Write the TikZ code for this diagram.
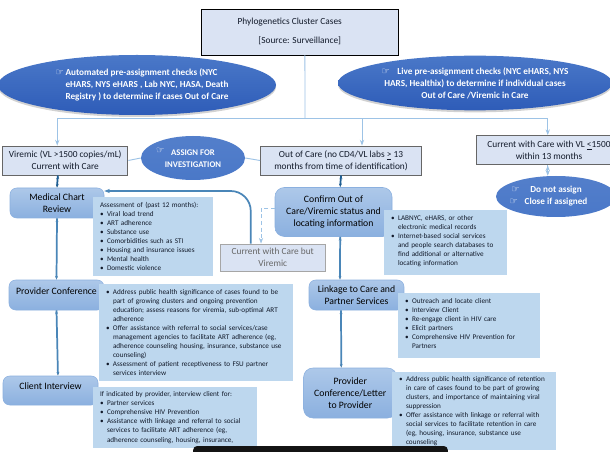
\documentclass[tikz,border=0pt]{standalone}
\usepackage{fontspec}
\setmainfont{Carlito}
\newfontfamily\symfont{DejaVu Sans}
\usetikzlibrary{arrows.meta, shapes, shadows}
\definecolor{boxfill}{HTML}{DAE3F3}
\definecolor{notefill}{HTML}{BDD7EE}
\definecolor{linklight}{HTML}{9DC3E6}
\definecolor{linksteel}{HTML}{4A86B8}
\definecolor{linkdark}{HTML}{1F5F94}
\definecolor{ovaltop}{HTML}{4A78C8}
\definecolor{ovalbot}{HTML}{2E5CB8}
\definecolor{steptop}{HTML}{ADC8E9}
\definecolor{stepbot}{HTML}{8BB0DF}
\definecolor{inktext}{HTML}{121A2A}
\newcommand{\itm}{\makebox[5.25pt][l]{\textbullet}}
\newcommand{\cnt}{\hspace*{5.25pt}}
\newcommand{\hand}{{\symfont\fontsize{7}{7}\selectfont\mdseries ☞}}

\begin{document}
\begin{tikzpicture}[x = 0.75pt, y = -0.75pt]

\tikzset{
casebox/.style = {rectangle, draw = #1, line width = 0.7pt, fill = boxfill, inner sep = 1pt, align = center,
	text = inktext, font = \fontsize{7}{9}\selectfont},
casebox/.default = black!60,
oval/.style = {ellipse, inner sep = 0pt, text = white, align = center, top color = ovaltop, bottom color = ovalbot,
	font = \fontsize{6.9}{9}\selectfont\bfseries},
stepbox/.style = {rectangle, rounded corners = 5pt, top color = steptop, bottom color = stepbot, draw = stepbot,
	inner sep = 1pt, align = center, text = black, font = \fontsize{7.3}{9}\selectfont},
notebox/.style = {rectangle, fill = notefill, inner xsep = 5.25pt, inner ysep = 0pt, align = left,
	minimum width = #1, text width = #1 - 10.5pt, text = inktext, font = \fontsize{5.4}{6.8}\selectfont},
lightflow/.style = {draw = linklight, line width = 0.7pt, -{Stealth[length = 1.5mm]}},
lightline/.style = {draw = linklight, line width = 0.7pt},
darkflow/.style = {draw = linkdark, line width = 1.3pt, -{Stealth[length = 1mm]}},
steelflow/.style = {draw = linksteel, line width = 1.3pt, -{Stealth[length = 1mm]}},
loopflow/.style = {draw = linksteel, line width = 1.3pt, rounded corners = 15pt, -{Stealth[length = 1.5mm]}},
dashflow/.style = {draw = linklight, line width = 0.6pt, densely dashed, -{Stealth[length = 1.5mm]}},
	}

\useasboundingbox (0, 0) rectangle (610, 452);
\fill [white] (0, 0) rectangle (610, 452);

%% Top row
\node at (299.75, 32) [casebox = black, minimum width = 147.4pt, minimum height = 34.5pt] (phylo)
	{Phylogenetics Cluster Cases\hspace*{15pt}\\[5pt]{[}Source: Surveillance{]}\hspace*{15pt}\\[-7pt]~};
\coordinate (bus) at (305, 118);

% Connectors under the top box
\draw [lightline] ([xshift = 3.9pt]phylo.south) -- (bus);

\node at (137, 85) [oval, minimum width = 208.5pt, minimum height = 45pt, drop shadow = {shadow xshift = 0pt, shadow yshift = -1.5pt, opacity = .35}] (autocheck)
	{\hspace*{7.5pt}\begin{tabular}{@{}l@{\hspace{0pt}}l@{}}\makebox[7.5pt][l]{\hand} & Automated pre-assignment checks  (NYC\\
	& eHARS, NYS eHARS , Lab NYC, HASA, Death\\
	& Registry ) to determine if cases Out of Care\end{tabular}};
\node at (475, 83) [oval, minimum width = 205.5pt, minimum height = 41pt, drop shadow = {shadow xshift = 0pt, shadow yshift = -1.5pt, opacity = .35}] (livecheck)
	{\hand\hspace{4pt} Live pre-assignment checks (NYC eHARS, NYS\\HARS, Healthix) to determine if individual cases\\Out of Care /Viremic in Care};

%% Status row
\node at (65.25, 160.5) [casebox, minimum width = 94pt, minimum height = 21.75pt] (viremic)
	{Viremic (VL >1500 copies/mL)\\Current with Care};
\node at (341, 160.5) [casebox, minimum width = 120.75pt, minimum height = 21.75pt] (outcare)
	{Out of Care (no CD4/VL labs \underline{>} 13\\months from time of identification)};
\node at (544, 150.25) [casebox, minimum width = 99.75pt, minimum height = 22pt] (current)
	{\hspace*{7.5pt}Current with Care with VL \underline{<}1500\\\hspace*{7.5pt}within 13 months};
\node at (193, 158) [oval, top color = ovaltop!95!white, bottom color = ovaltop, minimum width = 78pt, minimum height = 33pt, font = \fontsize{6.5}{9}\selectfont\bfseries] (assign)
	{\llap{\raisebox{2pt}{\hand}\hspace{5pt}}ASSIGN FOR\\INVESTIGATION};
\node at (556, 196.5) [oval, top color = ovaltop!95!white, bottom color = ovaltop, minimum width = 90pt, minimum height = 30.75pt] (donot)
	{\llap{\hand\hspace{8pt}}Do not assign\\\llap{\hand\hspace{5pt}}Close if assigned};

\draw [lightflow] (bus) -| ([xshift = -6pt]viremic.north);
\draw [lightflow] (bus) -| ([xshift = 15.75pt]outcare.north);
\draw [lightflow] (bus) -| ([xshift = 2.8pt]current.north);
\path [lightline] (viremic.east) edge [] (assign.west);
\path [lightline] (assign.east) edge [] (outcare.west);
\path [lightflow] ([xshift = 2.8pt]current.south) edge [] ([xshift = -6.2pt]donot.north);

%% Left column
\node at (57, 203) [stepbox, minimum width = 70.5pt, minimum height = 22.5pt] (medical) {Medical Chart\\Review};
\node at (56.5, 295) [stepbox, minimum width = 71.25pt, minimum height = 22.5pt] (provconf) {Provider Conference\\[-3pt]~};
\node at (50.5, 390.5) [stepbox, minimum width = 71.25pt, minimum height = 21.75pt] (client) {Client Interview\\[-3pt]~};

%% Middle column
\node at (333.5, 212) [stepbox, rounded corners = 7pt, minimum width = 87.75pt, minimum height = 36.75pt] (confirm)
	{Confirm Out of\\Care/Viremic status and\\locating information};
\node at (272.75, 257.5) [casebox = black!35, text = black!60, minimum width = 78.4pt, minimum height = 20.25pt] (viremiccare)
	{Current with Care but\\Viremic};
\node at (356.5, 295) [stepbox, minimum width = 71.25pt, minimum height = 22.5pt] (linkage) {Linkage to Care and\\Partner Services};
\node at (350.25, 393) [stepbox, rounded corners = 7pt, minimum width = 70pt, minimum height = 37.5pt] (provletter)
	{Provider\\Conference/Letter\\to Provider};

% The flows
\path [darkflow] ([xshift = -5.6pt]viremic.south) edge [] (medical.north);
\path [steelflow] (medical.south) edge [] (provconf.north);
\path [steelflow] (provconf.south) edge [] ([xshift = 5.6pt]client.north);
\path [darkflow] (outcare.south) edge [] ([xshift = 5pt]confirm.north);
\path [steelflow] ([xshift = 5pt]confirm.south) edge [] ([xshift = -12.4pt]linkage.north);
\path [steelflow] ([xshift = -11.6pt]linkage.south) edge [] ([xshift = -6.75pt]provletter.north);
\draw [loopflow] ([xshift = -16.5pt]viremiccare.north) |- ([yshift = 9pt]medical.east);
\draw [dashflow] ([yshift = 3pt]confirm.west) -| ([xshift = -8.8pt]viremiccare.north);

%% Notes
\node at (153, 236.5) [notebox = 90pt, minimum height = 59.25pt] (chartnote)
	{Assessment of (past 12 months):\\
	\itm Viral load trend\\
	\itm ART adherence\\
	\itm Substance use\\
	\itm Comorbidities such as STI\\
	\itm Housing and insurance issues\\
	\itm Mental health\\
	\itm Domestic violence};
\node at (196, 332.5) [notebox = 145.5pt, minimum height = 72.75pt] (confnote)
	{\itm Address public health significance of cases found to be\\
	\cnt part of growing clusters and ongoing prevention\\
	\cnt education; assess reasons for viremia, sub-optimal ART\\
	\cnt adherence\\
	\itm Offer assistance with referral to social services/case\\
	\cnt management agencies to facilitate ART adherence (eg,\\
	\cnt adherence counseling housing, insurance, substance use\\
	\cnt counseling)\\
	\itm Assessment of patient receptiveness to FSU partner\\
	\cnt services interview};
\node at (175, 417.5) [notebox = 123pt, minimum height = 45.75pt] (clientnote)
	{If indicated by provider, interview client for:\\
	\itm Partner services\\
	\itm Comprehensive HIV Prevention\\
	\itm Assistance with linkage and referral to social\\
	\cnt services to facilitate ART adherence (eg,\\
	\cnt adherence counseling, housing, insurance,};
\node at (445.5, 242.5) [notebox = 92.25pt, minimum height = 48.75pt] (confirmnote)
	{\itm LABNYC, eHARS, or other\\
	\cnt electronic medical records\\
	\itm Internet-based social services\\
	\cnt and people search databases to\\
	\cnt find additional or alternative\\
	\cnt locating information\\[-3.4pt]~};
\node at (469, 325.5) [notebox = 106.5pt, minimum height = 48.75pt] (linknote)
	{\itm Outreach and locate client\\
	\itm Interview Client\\
	\itm Re-engage client in HIV care\\
	\itm Elicit partners\\
	\itm Comprehensive HIV Prevention for\\
	\cnt Partners\\[-3.4pt]~};
\node at (474, 411) [notebox = 123pt, minimum height = 58.5pt] (lettnote)
	{\itm Address public health significance of retention\\
	\cnt in care of cases found to be part of growing\\
	\cnt clusters, and importance of maintaining viral\\
	\cnt suppression\\
	\itm Offer assistance with linkage or referral with\\
	\cnt social services to facilitate retention in care\\
	\cnt (eg, housing, insurance, substance use\\
	\cnt counseling};

%% Black strip along the bottom edge
\node at (320.5, 452) [rectangle, rounded corners = 3pt, fill = black!92, minimum width = 191pt, minimum height = 9pt, inner sep = 0pt] (strip) {};

\end{tikzpicture}
\end{document}
